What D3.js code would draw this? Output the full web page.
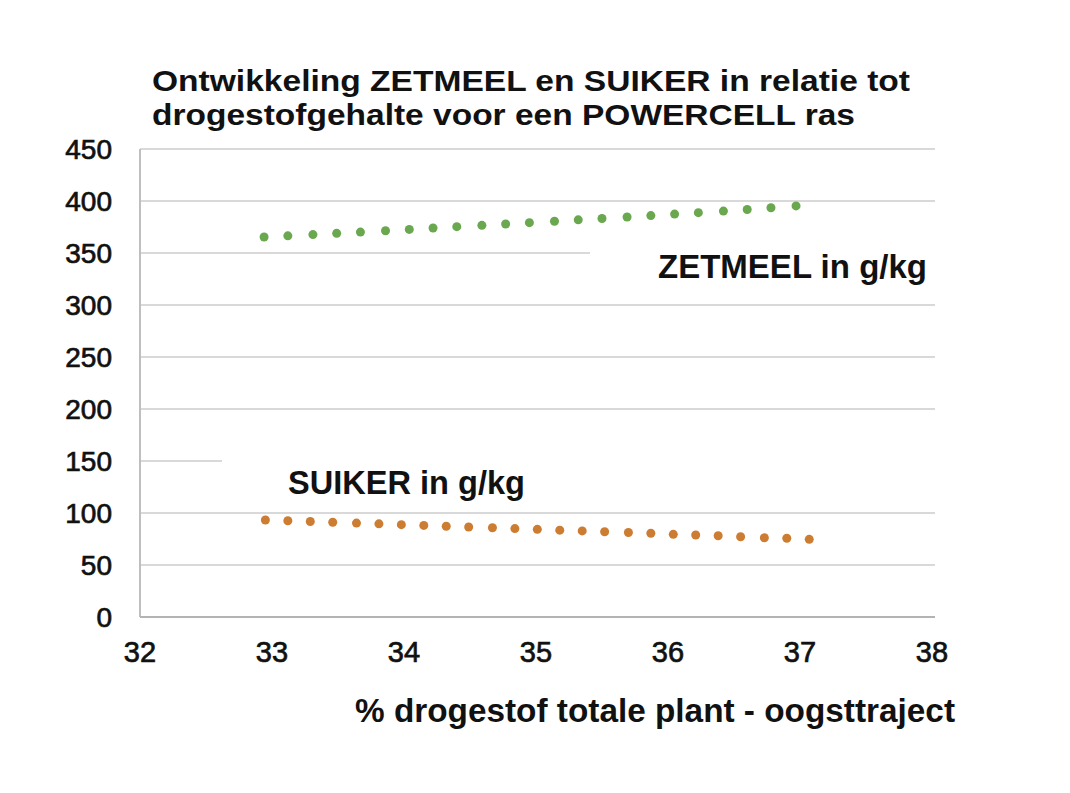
<!DOCTYPE html>
<html>
<head>
<meta charset="utf-8">
<script src="https://cdn.jsdelivr.net/npm/d3@7"></script>
<style>
  html, body { margin: 0; padding: 0; background: #fff; }
  svg { display: block; }
</style>
</head>
<body>
<svg id="chart" width="1070" height="793"></svg>
<script>
// ---- data ----
const titleLines = ["Ontwikkeling ZETMEEL en SUIKER in relatie tot", "drogestofgehalte voor een POWERCELL ras"];
const xTicks = [32, 33, 34, 35, 36, 37, 38];
const yTicks = [0, 50, 100, 150, 200, 250, 300, 350, 400, 450];
const xTitle = "% drogestof totale plant - oogsttraject";

const zetmeelX = [32.94, 33.12, 33.31, 33.49, 33.67, 33.86, 34.04, 34.22, 34.40, 34.59, 34.77, 34.95,
                  35.14, 35.32, 35.50, 35.69, 35.87, 36.05, 36.23, 36.42, 36.60, 36.78, 36.97];
const zetmeelY = [365.4, 366.5, 367.7, 368.9, 370.1, 371.4, 372.7, 374.0, 375.3, 376.6, 377.9, 379.2,
                  380.5, 381.9, 383.2, 384.6, 386.0, 387.4, 388.8, 390.3, 391.8, 393.5, 395.3];
const suikerX = [32.95, 33.12, 33.29, 33.46, 33.64, 33.81, 33.98, 34.15, 34.32, 34.49, 34.67, 34.84,
                 35.01, 35.18, 35.35, 35.52, 35.70, 35.87, 36.04, 36.21, 36.38, 36.55, 36.73, 36.90, 37.07];
const suikerY = [93.3, 92.6, 91.8, 91.1, 90.3, 89.6, 88.8, 88.1, 87.3, 86.5, 85.8, 85.0,
                 84.3, 83.5, 82.8, 82.0, 81.3, 80.5, 79.5, 78.8, 78.1, 77.2, 76.2, 75.7, 74.7];
const zetmeelLabel = "ZETMEEL in g/kg";
const suikerLabel = "SUIKER in g/kg";

// ---- layout ----
const svg = d3.select("#chart");
const font = "'Liberation Sans', Arial, sans-serif";
const x = d3.scaleLinear().domain([32, 38]).range([140, 932]);
const y = d3.scaleLinear().domain([0, 450]).range([617, 149]);

// gridlines
svg.append("g").selectAll("line").data(yTicks.filter(d => d > 0)).join("line")
  .attr("x1", x(32)).attr("x2", 935)
  .attr("y1", d => y(d)).attr("y2", d => y(d))
  .attr("stroke", "#d9d9d9").attr("stroke-width", 2);

// axis lines
svg.append("line").attr("x1", x(32)).attr("x2", x(32)).attr("y1", y(450)).attr("y2", y(0))
  .attr("stroke", "#bfbfbf").attr("stroke-width", 2);
svg.append("line").attr("x1", x(32)).attr("x2", 935).attr("y1", y(0)).attr("y2", y(0))
  .attr("stroke", "#b3b3b3").attr("stroke-width", 2);

// y tick labels
svg.append("g").selectAll("text").data(yTicks).join("text")
  .attr("x", 112).attr("y", d => y(d)).attr("dy", "0.36em")
  .attr("text-anchor", "end")
  .attr("font-family", font).attr("font-size", 28).attr("fill", "#111")
  .attr("stroke", "#111").attr("stroke-width", 0.7)
  .text(d => d);

// x tick labels
svg.append("g").selectAll("text").data(xTicks).join("text")
  .attr("x", d => x(d)).attr("y", 662)
  .attr("text-anchor", "middle")
  .attr("font-family", font).attr("font-size", 29).attr("fill", "#111")
  .attr("stroke", "#111").attr("stroke-width", 0.7)
  .text(d => d);

// series dots
svg.append("g").selectAll("circle").data(zetmeelX.map((v, i) => [v, zetmeelY[i]])).join("circle")
  .attr("cx", d => x(d[0])).attr("cy", d => y(d[1])).attr("r", 4.5)
  .attr("fill", "#6aa84f");
svg.append("g").selectAll("circle").data(suikerX.map((v, i) => [v, suikerY[i]])).join("circle")
  .attr("cx", d => x(d[0])).attr("cy", d => y(d[1])).attr("r", 4.5)
  .attr("fill", "#cd7d32");

// text boxes (white background hiding gridline parts)
svg.append("rect").attr("x", 590).attr("y", 242).attr("width", 350).attr("height", 56).attr("fill", "#fff");
svg.append("rect").attr("x", 222).attr("y", 452).attr("width", 718).attr("height", 52).attr("fill", "#fff");

svg.append("text").attr("x", 658).attr("y", 278)
  .attr("font-family", font).attr("font-size", 33).attr("font-weight", "bold").attr("fill", "#111")
  .attr("textLength", 269).attr("lengthAdjust", "spacingAndGlyphs")
  .text(zetmeelLabel);
svg.append("text").attr("x", 288).attr("y", 494)
  .attr("font-family", font).attr("font-size", 33).attr("font-weight", "bold").attr("fill", "#111")
  .attr("textLength", 237).attr("lengthAdjust", "spacingAndGlyphs")
  .text(suikerLabel);

// title
const titleLens = [758, 703];
svg.append("g").selectAll("text").data(titleLines).join("text")
  .attr("x", 152).attr("y", (d, i) => 91 + i * 34)
  .attr("font-family", font).attr("font-size", 30).attr("font-weight", "bold").attr("fill", "#111")
  .attr("textLength", (d, i) => titleLens[i]).attr("lengthAdjust", "spacingAndGlyphs")
  .text(d => d);

// x-axis title
svg.append("text").attr("x", 355).attr("y", 722)
  .attr("font-family", font).attr("font-size", 33).attr("font-weight", "bold").attr("fill", "#111")
  .attr("textLength", 600).attr("lengthAdjust", "spacingAndGlyphs")
  .text(xTitle);
</script>
</body>
</html>
